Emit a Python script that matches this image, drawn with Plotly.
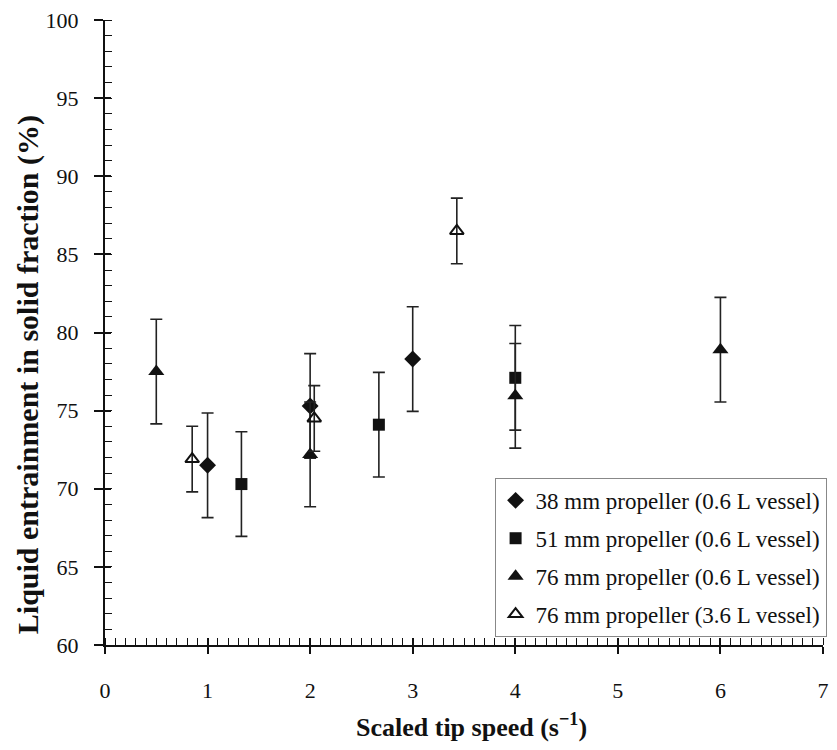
import plotly.graph_objects as go

# Data
names = ["38 mm propeller (0.6 L vessel)", "51 mm propeller (0.6 L vessel)",
         "76 mm propeller (0.6 L vessel)", "76 mm propeller (3.6 L vessel)"]
x38 = [1.0, 2.0, 3.0]
y38 = [71.5, 75.3, 78.3]
e38 = [3.35, 3.35, 3.35]
x51 = [1.33, 2.67, 4.0]
y51 = [70.3, 74.1, 77.1]
e51 = [3.35, 3.35, 3.35]
x76 = [0.5, 2.0, 4.0, 6.0]
y76 = [77.5, 72.2, 75.95, 78.9]
e76 = [3.35, 3.35, 3.35, 3.35]
x76L = [0.85, 2.04, 3.43]
y76L = [71.9, 74.5, 86.5]
e76L = [2.1, 2.1, 2.1]

x_ticks = [0, 1, 2, 3, 4, 5, 6, 7]
y_ticks = [60, 65, 70, 75, 80, 85, 90, 95, 100]

x_title = "<b>Scaled tip speed (s<sup>−1</sup>)</b>"
y_title = "<b>Liquid entrainment in solid fraction (%)</b>"

FONT = "'Liberation Serif', 'Times New Roman', Times, serif"
INK = "#111111"

series = [
    (x38, y38, e38, "diamond", 13, None),
    (x51, y51, e51, "square", 12, None),
    (x76, y76, e76, "triangle-up", 14, None),
    (x76L, y76L, e76L, "triangle-up-open", 12, 2),
]

fig = go.Figure()
for i, (xs, ys, es, sym, sz, lw) in enumerate(series):
    marker = dict(symbol=sym, size=sz, color=INK)
    if lw:
        marker["line"] = dict(width=lw, color=INK)
    fig.add_trace(go.Scatter(
        x=xs, y=ys, mode="markers", name=names[i], legendgroup=f"g{i}",
        marker=marker,
        error_y=dict(type="data", array=es, visible=True, color="#222222",
                     thickness=1.6, width=6),
    ))

# invisible trace on overlay axes so they render
fig.add_trace(go.Scatter(x=[None], y=[None], xaxis="x2", yaxis="y2",
                         showlegend=False, hoverinfo="skip"))

fig.update_layout(
    width=837, height=750,
    margin=dict(l=105, r=8, t=20, b=105),
    paper_bgcolor="white", plot_bgcolor="white",
    font=dict(family=FONT, color=INK, size=22),
    showlegend=True,
    legend=dict(
        x=1.005, xanchor="right", y=0.013, yanchor="bottom",
        bgcolor="white", bordercolor="#888888", borderwidth=1,
        font=dict(family=FONT, size=23, color=INK),
        tracegroupgap=5, traceorder="grouped",
        itemwidth=30,
    ),
    xaxis=dict(
        range=[0, 7], tickvals=x_ticks, ticktext=[str(v) for v in x_ticks],
        showgrid=False, zeroline=False, showline=True, linecolor=INK, linewidth=2,
        ticks="outside", ticklen=7, tickwidth=2, tickcolor=INK,
        ticklabelstandoff=18,
        minor=dict(dtick=0.1, ticks="inside", ticklen=7, tickwidth=1.3, tickcolor=INK),
        tickfont=dict(family=FONT, size=22),
    ),
    yaxis=dict(
        range=[60, 100], tickvals=y_ticks, ticktext=[str(v) for v in y_ticks],
        showgrid=False, zeroline=False, showline=True, linecolor=INK, linewidth=2,
        ticks="outside", ticklen=9, tickwidth=2, tickcolor=INK,
        ticklabelstandoff=11,
        minor=dict(dtick=1, ticks="inside", ticklen=7, tickwidth=1.3, tickcolor=INK),
        tickfont=dict(family=FONT, size=22),
    ),
    xaxis2=dict(range=[0, 7], overlaying="x", anchor="y", side="bottom",
                tickvals=x_ticks, ticks="inside", ticklen=7, tickwidth=2,
                tickcolor=INK, showticklabels=False, showgrid=False,
                zeroline=False, showline=False),
    yaxis2=dict(range=[60, 100], overlaying="y", anchor="x", side="left",
                tickvals=y_ticks, ticks="inside", ticklen=6, tickwidth=2,
                tickcolor=INK, showticklabels=False, showgrid=False,
                zeroline=False, showline=False),
    annotations=[
        dict(text=x_title, xref="paper", yref="paper", x=0.51, y=-0.128,
             xanchor="center", yanchor="middle", showarrow=False,
             font=dict(family=FONT, size=26, color=INK)),
        dict(text=y_title, xref="paper", yref="paper", x=-0.107, y=0.432,
             xanchor="center", yanchor="middle", showarrow=False, textangle=-90,
             font=dict(family=FONT, size=30, color=INK)),
    ],
)

fig.write_html("out.html")
